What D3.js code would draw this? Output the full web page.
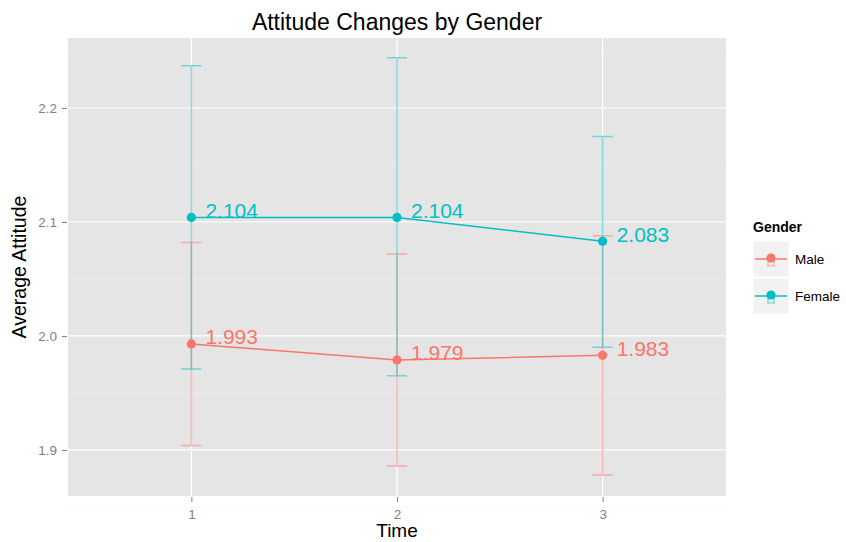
<!DOCTYPE html>
<html>
<head>
<meta charset="utf-8">
<script src="https://cdn.jsdelivr.net/npm/d3@7/dist/d3.min.js"></script>
<style>
  html, body { margin: 0; padding: 0; background: #ffffff; }
  svg { display: block; font-family: "Liberation Sans", Arial, Helvetica, sans-serif; }
</style>
</head>
<body>
<svg id="chart" width="846" height="542"></svg>
<script>
// ---- data ----
const times = [1, 2, 3];
const timeLabels = ["1", "2", "3"];
const genders = ["Male", "Female"];
const genderColors = ["#F8766D", "#00BFC4"];
const maleMean = [1.993, 1.979, 1.983];
const maleLower = [1.904, 1.886, 1.878];
const maleUpper = [2.082, 2.072, 2.088];
const femaleMean = [2.104, 2.104, 2.083];
const femaleLower = [1.971, 1.965, 1.990];
const femaleUpper = [2.237, 2.244, 2.175];
const yTicks = [1.9, 2.0, 2.1, 2.2];
const yTickLabels = ["1.9", "2.0", "2.1", "2.2"];
const yMinor = [1.85, 1.95, 2.05, 2.15, 2.25];

const series = [
  { name: genders[0], color: genderColors[0], mean: maleMean, lo: maleLower, hi: maleUpper },
  { name: genders[1], color: genderColors[1], mean: femaleMean, lo: femaleLower, hi: femaleUpper }
];

// ---- layout ----
const panel = { left: 68, right: 726, top: 38, bottom: 496 };
const svg = d3.select("#chart");

const x = d3.scaleLinear().domain([0.4, 3.6]).range([panel.left, panel.right]);
const y = d3.scaleLinear().domain([1.8596, 2.2614]).range([panel.bottom, panel.top]);

// panel background
svg.append("rect")
  .attr("x", panel.left).attr("y", panel.top)
  .attr("width", panel.right - panel.left).attr("height", panel.bottom - panel.top)
  .attr("fill", "#E5E5E5");

// minor grid
svg.append("g").selectAll("line").data(yMinor).join("line")
  .attr("x1", panel.left).attr("x2", panel.right)
  .attr("y1", d => y(d)).attr("y2", d => y(d))
  .attr("stroke", "#F2F2F2").attr("stroke-width", 0.6);

// major grid
svg.append("g").selectAll("line").data(yTicks).join("line")
  .attr("x1", panel.left).attr("x2", panel.right)
  .attr("y1", d => y(d)).attr("y2", d => y(d))
  .attr("stroke", "#FFFFFF").attr("stroke-width", 1.2);
svg.append("g").selectAll("line").data(times).join("line")
  .attr("y1", panel.top).attr("y2", panel.bottom)
  .attr("x1", d => x(d)).attr("x2", d => x(d))
  .attr("stroke", "#FFFFFF").attr("stroke-width", 1.2);

// axes
const xAxis = d3.axisBottom(x).tickValues(times).tickFormat((d, i) => timeLabels[i])
  .tickSizeInner(5).tickSizeOuter(0).tickPadding(7);
const gx = svg.append("g").attr("transform", `translate(0,${panel.bottom + 1})`).call(xAxis);
gx.select(".domain").remove();
gx.selectAll("line").attr("stroke", "#7F7F7F");
gx.selectAll("text").attr("fill", "#7F7F7F").attr("font-size", 13.5).attr("font-family", "Liberation Sans, Arial, sans-serif");

const yAxis = d3.axisLeft(y).tickValues(yTicks).tickFormat((d, i) => yTickLabels[i])
  .tickSizeInner(5).tickSizeOuter(0).tickPadding(5);
const gy = svg.append("g").attr("transform", `translate(${panel.left - 1},0)`).call(yAxis);
gy.select(".domain").remove();
gy.selectAll("line").attr("stroke", "#7F7F7F");
gy.selectAll("text").attr("fill", "#7F7F7F").attr("font-size", 13.5).attr("font-family", "Liberation Sans, Arial, sans-serif");

// error bars
const capHalf = 0.049;
series.forEach(s => {
  const g = svg.append("g").attr("stroke", s.color).attr("stroke-opacity", 0.5).attr("stroke-width", 1.5).attr("fill", "none");
  times.forEach((t, i) => {
    const p = d3.path();
    p.moveTo(x(t - capHalf), y(s.hi[i])); p.lineTo(x(t + capHalf), y(s.hi[i]));
    p.moveTo(x(t), y(s.hi[i])); p.lineTo(x(t), y(s.lo[i]));
    p.moveTo(x(t - capHalf), y(s.lo[i])); p.lineTo(x(t + capHalf), y(s.lo[i]));
    g.append("path").attr("d", p.toString());
  });
});

// lines
const line = d3.line().x((d, i) => x(times[i])).y(d => y(d));
series.forEach(s => {
  svg.append("path").datum(s.mean).attr("d", line)
    .attr("fill", "none").attr("stroke", s.color).attr("stroke-width", 1.5);
});

// points
series.forEach(s => {
  svg.append("g").selectAll("circle").data(s.mean).join("circle")
    .attr("cx", (d, i) => x(times[i])).attr("cy", d => y(d)).attr("r", 4.6)
    .attr("fill", s.color);
});

// value labels
series.forEach(s => {
  svg.append("g").selectAll("text").data(s.mean).join("text")
    .attr("x", (d, i) => x(times[i]) + 14).attr("y", d => y(d) + 0.5)
    .attr("fill", s.color).attr("font-size", 21)
    .text(d => d.toFixed(3));
});

// title
svg.append("text").attr("x", (panel.left + panel.right) / 2).attr("y", 30)
  .attr("text-anchor", "middle").attr("font-size", 23).attr("fill", "#000")
  .text("Attitude Changes by Gender");

// axis titles
svg.append("text").attr("x", (panel.left + panel.right) / 2).attr("y", 537)
  .attr("text-anchor", "middle").attr("font-size", 19).attr("fill", "#000")
  .text("Time");
svg.append("text")
  .attr("transform", `translate(26,${(panel.top + panel.bottom) / 2}) rotate(-90)`)
  .attr("text-anchor", "middle").attr("font-size", 19.5).attr("fill", "#000")
  .text("Average Attitude");

// legend
const lg = svg.append("g").attr("transform", "translate(753,0)");
lg.append("text").attr("x", 0).attr("y", 232).attr("font-size", 14).attr("font-weight", "bold").attr("fill", "#000").text("Gender");
series.forEach((s, i) => {
  const top = 241 + i * 37;
  const cy = top + 18;
  lg.append("rect").attr("x", 0).attr("y", top).attr("width", 36).attr("height", 36)
    .attr("fill", "#F2F2F2").attr("stroke", "#FFFFFF").attr("stroke-width", 1);
  lg.append("line").attr("x1", 2).attr("x2", 34).attr("y1", cy).attr("y2", cy)
    .attr("stroke", s.color).attr("stroke-width", 1.5);
  // errorbar glyph
  const ep = d3.path();
  ep.moveTo(14, cy + 1); ep.lineTo(22, cy + 1);
  ep.moveTo(15, cy + 1); ep.lineTo(15, cy + 7);
  ep.moveTo(21, cy + 1); ep.lineTo(21, cy + 7);
  ep.moveTo(14, cy + 7); ep.lineTo(22, cy + 7);
  lg.append("path").attr("d", ep.toString()).attr("fill", "none")
    .attr("stroke", s.color).attr("stroke-opacity", 0.6).attr("stroke-width", 1.2);
  lg.append("circle").attr("cx", 18).attr("cy", cy - 1).attr("r", 4.6).attr("fill", s.color);
  lg.append("text").attr("x", 42).attr("y", cy + 5).attr("font-size", 13.5).attr("fill", "#000").text(s.name);
});
</script>
</body>
</html>
